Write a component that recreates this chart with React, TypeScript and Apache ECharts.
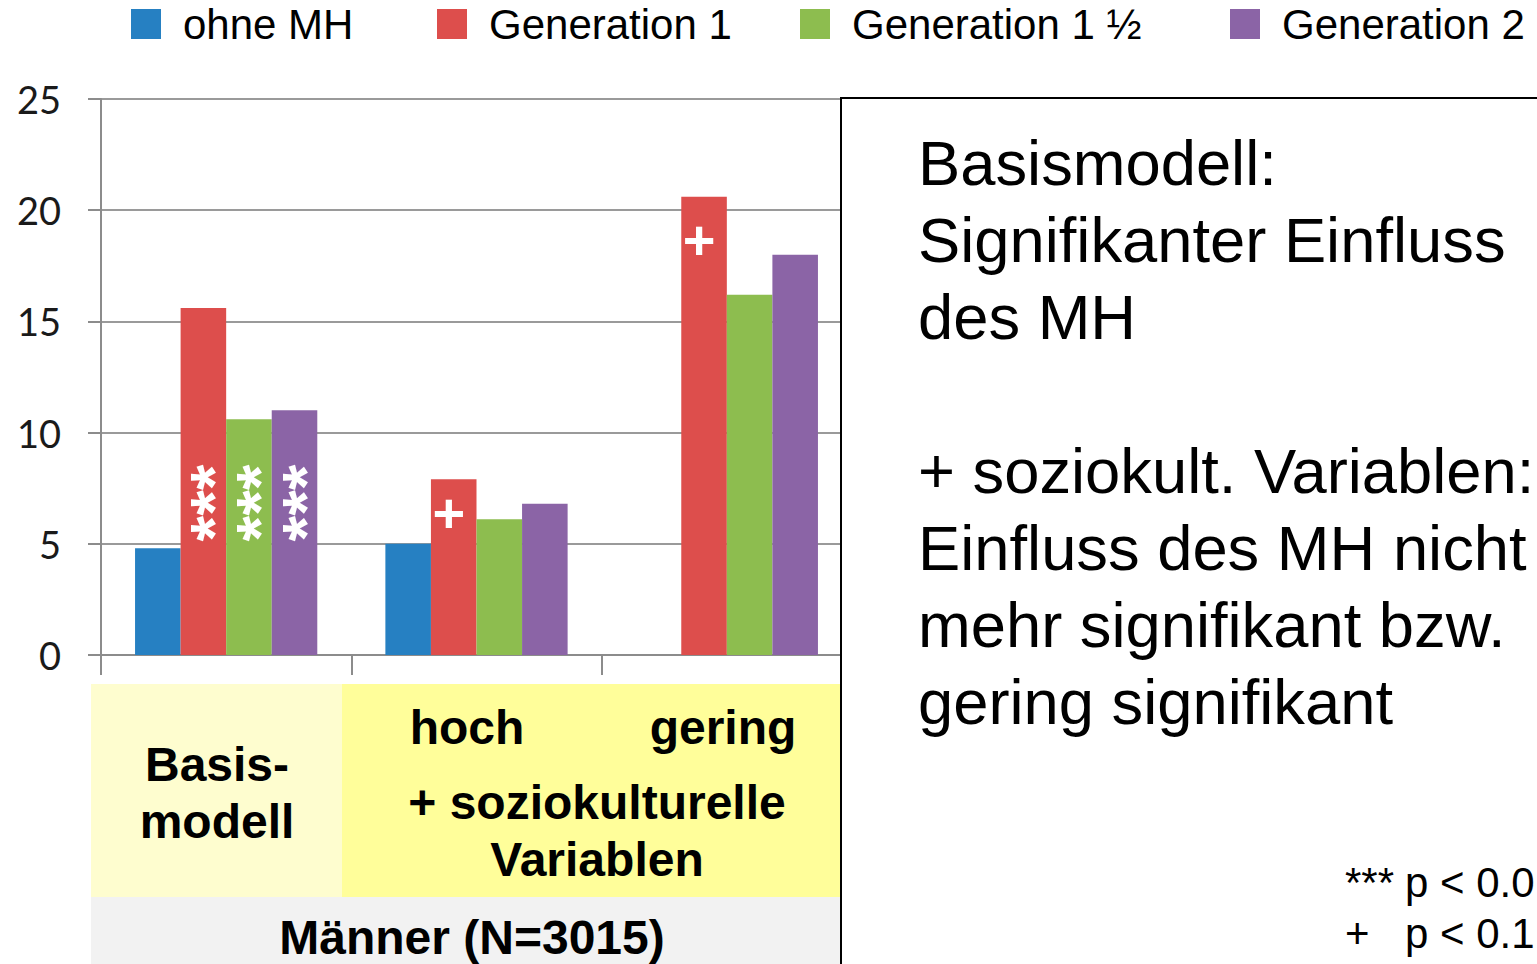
import React, { useEffect, useRef } from "react";
import * as echarts from "echarts";

const categories = ["Basismodell", "hoch", "gering"];
const seriesNames = ["ohne MH", "Generation 1", "Generation 1 ½", "Generation 2"];
const ohneMH = [4.8, 5.0, null];
const gen1 = [15.6, 7.9, 20.6];
const gen15 = [10.6, 6.1, 16.2];
const gen2 = [11.0, 6.8, 18.0];
const gen1Marks = ["***", "+", "+"];
const gen15Marks = ["***", "", ""];
const gen2Marks = ["***", "", ""];
const yTicks = [0, 5, 10, 15, 20, 25];
const colors = ["#2680C2", "#DD4E4C", "#8DBD4F", "#8B64A6"];
const legendLefts = [126, 432, 795, 1225];

const tableLeft = ["Basis-", "modell"];
const tableHoch = "hoch";
const tableGering = "gering";
const tableSozio = ["+ soziokulturelle", "Variablen"];
const tableFooter = "Männer (N=3015)";
const boxLines = [
  "Basismodell:",
  "Signifikanter Einfluss",
  "des MH",
  "",
  "+ soziokult. Variablen:",
  "Einfluss des MH nicht",
  "mehr signifikant bzw.",
  "gering signifikant",
];
const sigSymbols = ["***", "+"];
const sigTexts = ["p < 0.0", "p < 0.1"];

const ARIAL = "'Liberation Sans', Arial, Helvetica, sans-serif";

function markLabel(mark: string, idx: number) {
  if (mark === "***") {
    return {
      show: true,
      position: "insideBottom",
      distance: 152,
      rotate: 90,
      align: "center",
      verticalAlign: "middle",
      offset: [0, 11],
      formatter: "***",
      color: "#fff",
      fontSize: 66,
      fontWeight: "bold",
      fontFamily: ARIAL,
    };
  }
  if (mark === "+") {
    return {
      show: true,
      position: "insideTop",
      distance: idx === 1 ? 13 : 23,
      offset: [-5, 0],
      formatter: "+",
      color: "#fff",
      fontSize: 56,
      fontWeight: "bold",
      lineHeight: 40,
      fontFamily: ARIAL,
    };
  }
  return { show: false };
}

function withMarks(values: (number | null)[], marks: string[]) {
  return values.map((v, i) => ({ value: v, label: markLabel(marks[i], i) }));
}

export default function App() {
  const ref = useRef<HTMLDivElement>(null);
  useEffect(() => {
    if (!ref.current) return;
    const chart = echarts.init(ref.current, null, { renderer: "svg" });
    const dataSets = [
      withMarks(ohneMH, ["", "", ""]),
      withMarks(gen1, gen1Marks),
      withMarks(gen15, gen15Marks),
      withMarks(gen2, gen2Marks),
    ];
    const option: any = {
      animation: false,
      backgroundColor: "#fff",
      legend: seriesNames.map((name, i) => ({
        left: legendLefts[i],
        top: -2,
        itemWidth: 30,
        itemHeight: 30,
        icon: "rect",
        data: [name],
        textStyle: {
          fontSize: 42,
          fontFamily: ARIAL,
          color: "#000",
          padding: [0, 0, 0, 17],
        },
      })),
      grid: { left: 101, top: 99, width: 751, height: 556, containLabel: false },
      xAxis: {
        type: "category",
        data: categories,
        axisLine: { show: true, lineStyle: { color: "#8c8c8c", width: 2 } },
        axisTick: { show: true, length: 20, lineStyle: { color: "#8c8c8c", width: 2 } },
        axisLabel: { show: false },
      },
      yAxis: {
        type: "value",
        min: yTicks[0],
        max: yTicks[yTicks.length - 1],
        interval: 5,
        axisLine: { show: true, lineStyle: { color: "#8c8c8c", width: 2 } },
        axisTick: { show: true, length: 13, lineStyle: { color: "#8c8c8c", width: 2 } },
        axisLabel: { fontFamily: "Lato", fontSize: 38, color: "#1a1a1a", margin: 40 },
        splitLine: { lineStyle: { color: "#9a9a9a", width: 2 } },
      },
      series: seriesNames.map((name, i) => ({
        name,
        type: "bar",
        data: dataSets[i],
        itemStyle: { color: colors[i] },
        barGap: "0%",
        barCategoryGap: "27.2%",
      })),
      graphic: [
        { type: "rect", z: 50, shape: { x: 91, y: 684, width: 251, height: 213 }, style: { fill: "#FEFDCF" } },
        { type: "rect", z: 50, shape: { x: 342, y: 684, width: 498, height: 213 }, style: { fill: "#FFFE9A" } },
        { type: "rect", z: 50, shape: { x: 91, y: 897, width: 749, height: 67 }, style: { fill: "#F2F2F2" } },
        {
          type: "text", z: 51, x: 217, y: 793,
          style: { text: tableLeft.join("\n"), font: `bold 48px ${ARIAL}`, lineHeight: 57, align: "center", verticalAlign: "middle", fill: "#000" },
        },
        {
          type: "text", z: 51, x: 467, y: 727,
          style: { text: tableHoch, font: `bold 48px ${ARIAL}`, align: "center", verticalAlign: "middle", fill: "#000" },
        },
        {
          type: "text", z: 51, x: 723, y: 727,
          style: { text: tableGering, font: `bold 48px ${ARIAL}`, align: "center", verticalAlign: "middle", fill: "#000" },
        },
        {
          type: "text", z: 51, x: 597, y: 831,
          style: { text: tableSozio.join("\n"), font: `bold 48px ${ARIAL}`, lineHeight: 57, align: "center", verticalAlign: "middle", fill: "#000" },
        },
        {
          type: "text", z: 51, x: 472, y: 937,
          style: { text: tableFooter, font: `bold 48px ${ARIAL}`, align: "center", verticalAlign: "middle", fill: "#000" },
        },
        {
          type: "rect", z: 60, shape: { x: 841, y: 98, width: 800, height: 900 },
          style: { fill: "#fff", stroke: "#000", lineWidth: 2 },
        },
        {
          type: "text", z: 61, x: 918, y: 124,
          style: { text: boxLines.join("\n"), font: `63.3px ${ARIAL}`, lineHeight: 77, align: "left", verticalAlign: "top", fill: "#000" },
        },
        {
          type: "text", z: 61, x: 1345, y: 857,
          style: { text: sigSymbols.join("\n"), font: `42px ${ARIAL}`, lineHeight: 51, align: "left", verticalAlign: "top", fill: "#000" },
        },
        {
          type: "text", z: 61, x: 1405, y: 857,
          style: { text: sigTexts.join("\n"), font: `42px ${ARIAL}`, lineHeight: 51, align: "left", verticalAlign: "top", fill: "#000" },
        },
      ],
    };
    chart.setOption(option);
    return () => chart.dispose();
  }, []);
  return (
    <div
      ref={ref}
      style={{ position: "fixed", left: 0, top: 0, width: 1537, height: 964 }}
    />
  );
}
